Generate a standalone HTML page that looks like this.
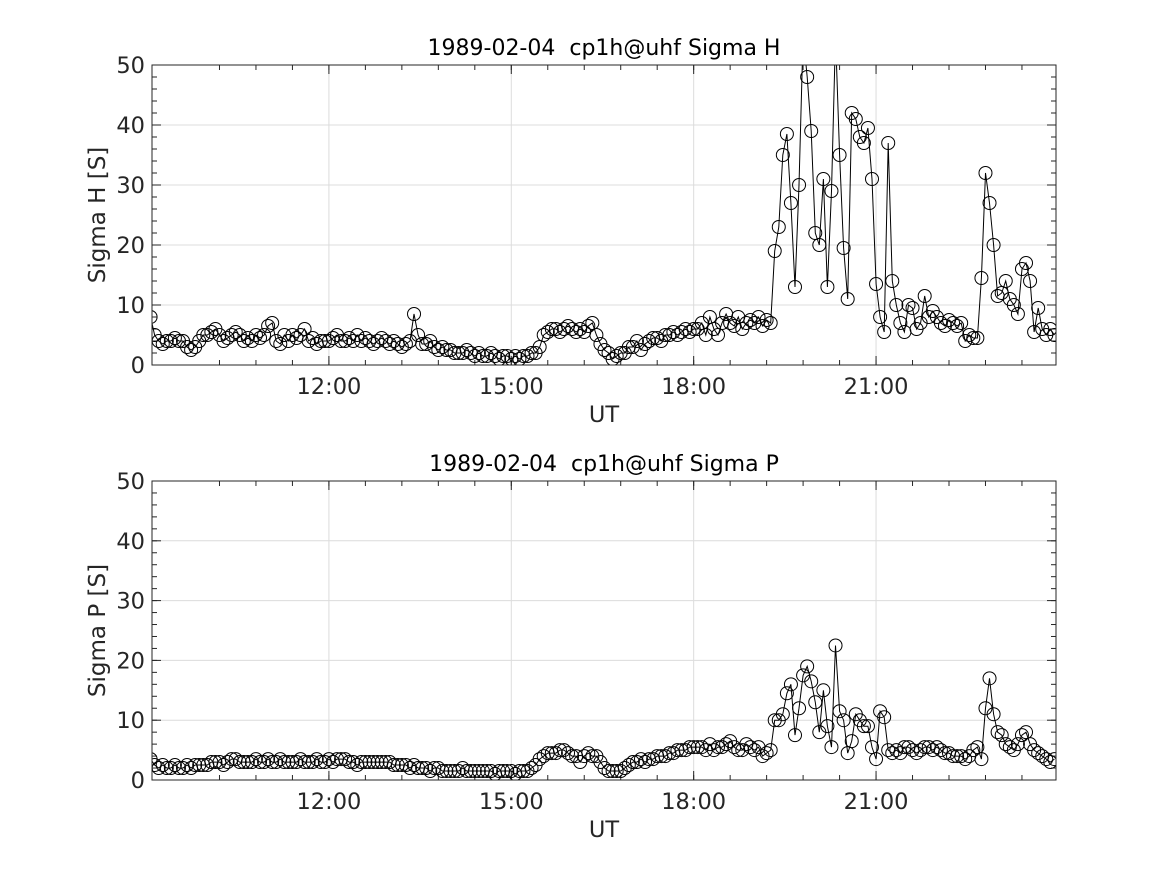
<!DOCTYPE html>
<html><head><meta charset="utf-8"><style>
body{margin:0;background:#fff;}
svg text{font-family:"DejaVu Sans","Liberation Sans",sans-serif;fill:#262626;white-space:pre;}
</style></head><body>
<svg id="chart" width="1167" height="875" xmlns="http://www.w3.org/2000/svg"></svg>
<script>
const tStart = 9.0667;
const tStep = 4/60;
const sigmaH = [
8,5,4,3.5,4,4,4.5,4,4,3,2.5,3,4,5,
5,5.5,6,5,4,4.5,5,5.5,5,4,4.5,4,5,4.5,5,
6.5,7,4,3.5,5,4,5,4.5,5,6,4,4.5,3.5,4,4,
4,4.5,5,4,4,4.5,4,5,4,4.5,4,3.5,4,4.5,4,
3.5,4,3.5,3,3.5,4,8.5,5,3.5,3.5,4,3,2.5,3,2.5,
2.5,2,2,2,2.5,2,1.5,2,1.5,1.5,2,1.5,1,1.5,1.5,
1,1.5,1,1.5,1.5,2,2,3,5,5.5,6,6,5.5,6,6.5,
6,5.5,6,5.5,6.5,7,5,3.5,2.5,2,1,1.5,2,2,3,
3,4,2.5,3.5,4,4.5,4.5,4,5,5,5.5,5,5.5,6,5.5,
6,6,7,5,8,6,5,7,8.5,7,6.5,8,6,7,7.5,
7,8,6.5,7.5,7,19,23,35,38.5,27,13,30,55,48,39,
22,20,31,13,29,55,35,19.5,11,42,41,38,37,39.5,31,
13.5,8,5.5,37,14,10,7,5.5,10,9.5,6,7,11.5,8,9,
8,7,6.5,7.5,7,6.5,7,4,5,4.5,4.5,14.5,32,27,20,
11.5,12,14,11,10,8.5,16,17,14,5.5,9.5,6,5,6,5
];
const sigmaP = [
3.5,2.5,2,2.5,2,2,2.5,2,2,2.5,2,2.5,2.5,2.5,
2.5,3,3,3,2.5,3,3.5,3.5,3,3,3,3,3.5,3,3,
3.5,3,3,3.5,3,3,3,3,3.5,3,3,3,3.5,3,3,
3.5,3,3.5,3.5,3.5,3,3,2.5,3,3,3,3,3,3,3,
3,2.5,2.5,2.5,2.5,2,2.5,2,2,2,1.5,2,2,1.5,1.5,
1.5,1.5,1.5,2,1.5,1.5,1.5,1.5,1.5,1.5,1.5,1,1.5,1.5,1.5,
1.5,1,1.5,1.5,1.5,2,2.5,3.5,4,4.5,4.5,4.5,5,5,4.5,
4,4,3,4,4.5,4,4,3,2,1.5,1.5,1.5,1.5,2,2.5,
3,3,3.5,3,3.5,3.5,4,4,4,4.5,4.5,5,5,5,5.5,
5.5,5.5,5.5,5,6,5,5.5,5.5,6,6.5,5.5,5,5,6,5.5,
5,5.5,4,4.5,5,10,10,11,14.5,16,7.5,12,17.5,19,16.5,
13,8,15,9,5.5,22.5,11.5,10,4.5,6.5,11,10,9,9,5.5,
3.5,11.5,10.5,5,4.5,5,4.5,5.5,5.5,5,4.5,5,5.5,5.5,5,
5.5,5,4.5,4.5,4,4,4,3.5,4,5,5.5,3.5,12,17,11,
8,7.5,6,5.5,5,6,7.5,8,6,5,4.5,4,3.5,3,3.5
];
const xTickVals = [12,15,18,21];
const xTickLabels = ["12:00","15:00","18:00","21:00"];
const yTickVals = [0,10,20,30,40,50];

const NS = "http://www.w3.org/2000/svg";
const svg = document.getElementById('chart');
const X0 = 152, X1 = 1056, T0 = 9.09, T1 = 23.96;
function mk(tag, attrs, parent){ const e=document.createElementNS(NS,tag); for(const k in attrs) e.setAttribute(k,attrs[k]); (parent||svg).appendChild(e); return e; }
function xs(t){ return X0 + (t-T0)/(T1-T0)*(X1-X0); }

function panel(top, bottom, data, title, ylabel, key){
  const ys = v => bottom - Math.min(v,60)/50*(bottom-top);
  const g = mk('g',{});
  
  
  const clipId = 'clip-'+key;
  const cp = mk('clipPath',{id:clipId},g);
  mk('rect',{x:X0,y:top,width:X1-X0,height:bottom-top},cp);
  xTickVals.forEach(t=>{ const l=mk('line',{x1:xs(t),x2:xs(t),y1:top,y2:bottom,stroke:'#dcdcdc','stroke-width':1},g);
      });
  yTickVals.forEach(v=>{ if(v===0||v===50) return; const l=mk('line',{x1:X0,x2:X1,y1:ys(v),y2:ys(v),stroke:'#dcdcdc','stroke-width':1},g);
      });
  for(let v=0; v<=50; v+=2){ const y=ys(v); mk('line',{x1:X0,x2:X0+5,y1:y,y2:y,stroke:'#262626'},g); mk('line',{x1:X1,x2:X1-5,y1:y,y2:y,stroke:'#262626'},g); }
  for(let t=12-3*0.6; t<T1; t+=0.6){ if(t<T0) continue; const x=xs(t); mk('line',{x1:x,x2:x,y1:bottom,y2:bottom-5,stroke:'#262626'},g); mk('line',{x1:x,x2:x,y1:top,y2:top+5,stroke:'#262626'},g); }
  yTickVals.forEach(v=>{ const y=ys(v); mk('line',{x1:X0,x2:X0+9,y1:y,y2:y,stroke:'#262626'},g); mk('line',{x1:X1,x2:X1-9,y1:y,y2:y,stroke:'#262626'},g);
    const tx=mk('text',{x:X0-7,y:y+8,'text-anchor':'end','font-size':22.5},g); tx.textContent=v;
      });
  xTickVals.forEach((t,i)=>{ const x=xs(t); mk('line',{x1:x,x2:x,y1:bottom,y2:bottom-9,stroke:'#262626'},g); mk('line',{x1:x,x2:x,y1:top,y2:top+9,stroke:'#262626'},g);
    const tx=mk('text',{x:x,y:bottom+29,'text-anchor':'middle','font-size':22.5},g); tx.textContent=xTickLabels[i];
      });
  const sg = mk('g',{'clip-path':'url(#'+clipId+')'},g);
  
  
  const pts = data.map((v,i)=>xs(tStart+i*tStep).toFixed(1)+','+ys(v).toFixed(1)).join(' ');
  const pl = mk('polyline',{points:pts,fill:'none',stroke:'#000','stroke-width':1},sg);
  
  
  data.forEach((v,i)=>{ const c=mk('circle',{cx:xs(tStart+i*tStep),cy:ys(v),r:6.5,fill:'none',stroke:'#000','stroke-width':1},sg);
      });
  const fr = mk('rect',{x:X0,y:top,width:X1-X0,height:bottom-top,fill:'none',stroke:'#262626','stroke-width':1},g);
   
  const tt=mk('text',{x:604,y:top-10,'text-anchor':'middle','font-size':22,style:'fill:#000'},g); tt.textContent=title;
   
  const xl=mk('text',{x:604,y:bottom+57,'text-anchor':'middle','font-size':22.5},g); xl.textContent='UT';
   
  const cy=(top+bottom)/2;
  const yl=mk('text',{x:105,y:cy,'text-anchor':'middle','font-size':23,transform:'rotate(-90 105 '+cy+')'},g); yl.textContent=ylabel;
   
}
panel(65, 365, sigmaH, '1989-02-04  cp1h@uhf Sigma H', 'Sigma H [S]', 'sigma-h');
panel(481, 780, sigmaP, '1989-02-04  cp1h@uhf Sigma P', 'Sigma P [S]', 'sigma-p');
</script>
</body></html>
